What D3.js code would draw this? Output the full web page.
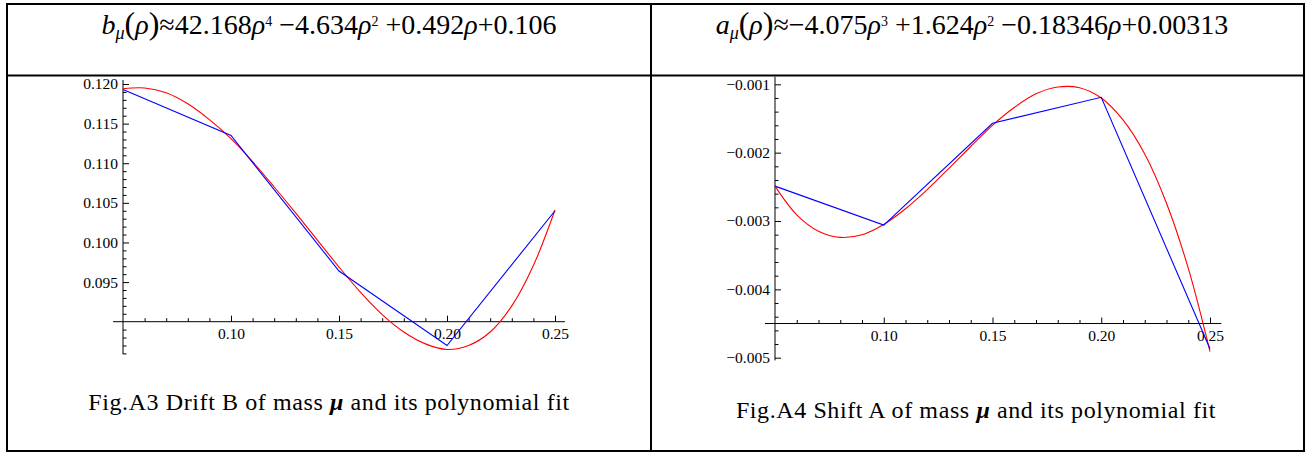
<!DOCTYPE html>
<html>
<head>
<meta charset="utf-8">
<title>Drift B and Shift A polynomial fits</title>
<style>
  body { margin: 0; background: #fff; }
  svg text { font-family: "Liberation Serif", "Times New Roman", serif; fill: #000; }
  .caption { font-size: 24px; letter-spacing: 0.6px; }
</style>
<script src="https://cdnjs.cloudflare.com/ajax/libs/d3/7.8.5/d3.min.js"></script>
</head>
<body>
<svg id="page" width="1312" height="454"></svg>
<script>
// ---- data ----
// Fig.A3: drift B, sample points and fitted polynomial
const rhoPts = [0.05, 0.10, 0.15, 0.20, 0.25];
const bSamples = [0.1193, 0.1135, 0.0964, 0.0870, 0.1040];
const rhoFit = [0.05, 0.06, 0.07, 0.08, 0.09, 0.10, 0.11, 0.12, 0.13, 0.14, 0.15,
                0.16, 0.17, 0.18, 0.19, 0.20, 0.21, 0.22, 0.23, 0.24, 0.25];
const bFit = [0.1194, 0.1195, 0.1189, 0.1175, 0.1155, 0.1131, 0.1102, 0.1070, 0.1037, 0.1003, 0.0969,
              0.0937, 0.0909, 0.0887, 0.0872, 0.0865, 0.0870, 0.0887, 0.0920, 0.0971, 0.1041];
// Fig.A4: shift A, sample points and fitted polynomial
const aSamples = [-0.00249, -0.00306, -0.00157, -0.00119, -0.00487];
const aFit = [-0.00249, -0.00291, -0.00315, -0.00324, -0.00320, -0.00305, -0.00282, -0.00254, -0.00223, -0.00191, -0.00160,
              -0.00134, -0.00114, -0.00104, -0.00105, -0.00120, -0.00152, -0.00202, -0.00274, -0.00369, -0.00491];

const bMajor = [0.095, 0.100, 0.105, 0.110, 0.115, 0.120];
const aMajor = [-0.005, -0.004, -0.003, -0.002, -0.001];
const xMajor = [0.10, 0.15, 0.20, 0.25];

const svg = d3.select("#page");

// table frame
const frame = svg.append("g").attr("stroke", "#000").attr("stroke-width", 2);
[7, 651, 1304].forEach(x => frame.append("line").attr("x1", x).attr("x2", x).attr("y1", 3).attr("y2", 452));
[4, 75.5, 451].forEach(y => frame.append("line").attr("x1", 6).attr("x2", 1305).attr("y1", y).attr("y2", y));

// formulas in the header row
function formula(cx, parts) {
  const t = svg.append("text").attr("x", cx).attr("y", 34).attr("text-anchor", "middle")
    .style("font-family", "'Liberation Serif', serif").style("font-size", "28px");
  parts.forEach(p => {
    const s = t.append("tspan").text(p.t);
    if (p.i) s.style("font-style", "italic");
    if (p.sub) s.attr("baseline-shift", "-30%").style("font-size", "18px");
    if (p.sup) s.attr("baseline-shift", "60%").style("font-size", "14px");
    if (p.big) s.style("font-size", "32px");
  });
}
formula(329, [
  {t: "b", i: 1}, {t: "μ", i: 1, sub: 1}, {t: "(", big: 1}, {t: "ρ", i: 1}, {t: ")", big: 1},
  {t: "≈42.168"}, {t: "ρ", i: 1}, {t: "4", sup: 1}, {t: " −4.634"}, {t: "ρ", i: 1}, {t: "2", sup: 1},
  {t: " +0.492"}, {t: "ρ", i: 1}, {t: "+0.106"}
]);
formula(972, [
  {t: "a", i: 1}, {t: "μ", i: 1, sub: 1}, {t: "(", big: 1}, {t: "ρ", i: 1}, {t: ")", big: 1},
  {t: "≈−4.075"}, {t: "ρ", i: 1}, {t: "3", sup: 1}, {t: " +1.624"}, {t: "ρ", i: 1}, {t: "2", sup: 1},
  {t: " −0.18346"}, {t: "ρ", i: 1}, {t: "+0.00313"}
]);

// one Mathematica-style panel: axes cross at (0.05, yCross)
function panel(o) {
  const x = d3.scaleLinear().domain([0.05, 0.25]).range(o.xr);
  const y = d3.scaleLinear().domain(o.yd).range(o.yr);
  const g = svg.append("g");

  const xMinor = d3.range(0.05, 0.2551, 0.01).filter(v => Math.abs(v - 0.05) > 1e-9 && !xMajor.some(m => Math.abs(m - v) < 1e-9));
  const yMinor = d3.range(o.yMinorFrom, o.yMinorTo + o.yStep / 2, o.yStep)
    .filter(v => Math.abs(v - o.yCross) > 1e-9 && !o.yMajor.some(m => Math.abs(m - v) < 1e-9));

  const gx = g.append("g").attr("transform", `translate(0,${y(o.yCross)})`);
  gx.call(d3.axisBottom(x).tickValues(xMajor).tickSize(-6).tickPadding(6).tickFormat(d3.format(".2f")));
  gx.append("g").call(d3.axisBottom(x).tickValues(xMinor).tickSize(-3.5).tickFormat(""));
  gx.selectAll(".domain").remove();
  gx.append("line").attr("x1", x(o.xLine[0])).attr("x2", x(o.xLine[1])).attr("stroke", "#000");

  const gy = g.append("g").attr("transform", `translate(${x(0.05)},0)`);
  gy.call(d3.axisLeft(y).tickValues(o.yMajor).tickSize(-6).tickPadding(5).tickFormat(d3.format(".3f")));
  gy.append("g").call(d3.axisLeft(y).tickValues(yMinor).tickSize(-3.5).tickFormat(""));
  gy.selectAll(".domain").remove();
  gy.append("line").attr("y1", y(o.yLine[0])).attr("y2", y(o.yLine[1])).attr("stroke", "#000");
  g.selectAll(".tick line").attr("stroke", "#000");
  g.selectAll("g").attr("font-size", null).attr("font-family", null);
  g.selectAll(".tick text").style("font-size", "15.5px").style("font-family", "'Liberation Serif', serif");

  const fitLine = d3.line().x((d, i) => x(rhoFit[i])).y(d => y(d)).curve(d3.curveCatmullRom);
  const ptLine = d3.line().x((d, i) => x(rhoPts[i])).y(d => y(d));
  g.append("path").attr("d", fitLine(o.fit)).attr("fill", "none").attr("stroke", "#ff0000").attr("stroke-width", 1.1);
  g.append("path").attr("d", ptLine(o.pts)).attr("fill", "none").attr("stroke", "#0000ff").attr("stroke-width", 1.1);

  const cap = svg.append("text").attr("class", "caption").attr("x", o.capX).attr("y", o.capY)
    .attr("text-anchor", "middle");
  cap.append("tspan").text(o.caption);
  cap.append("tspan").text("μ").style("font-weight", "bold").style("font-style", "italic");
  cap.append("tspan").text(" and its polynomial fit");
}

panel({
  xr: [123, 555], yd: [0.090, 0.120], yr: [321.7, 84],
  yCross: 0.090, yMajor: bMajor, yStep: 0.001, yMinorFrom: 0.086, yMinorTo: 0.120,
  xLine: [0.0454, 0.2546], yLine: [0.0859, 0.1205],
  fit: bFit, pts: bSamples,
  caption: "Fig.A3 Drift B of mass ", capX: 329, capY: 410
});
panel({
  xr: [775, 1210], yd: [-0.005, -0.001], yr: [357.7, 84.3],
  yCross: -0.0045, yMajor: aMajor, yStep: 0.0002, yMinorFrom: -0.005, yMinorTo: -0.001,
  xLine: [0.0454, 0.2552], yLine: [-0.00504, -0.00089],
  fit: aFit, pts: aSamples,
  caption: "Fig.A4 Shift A of mass ", capX: 976, capY: 418
});
</script>
</body>
</html>
